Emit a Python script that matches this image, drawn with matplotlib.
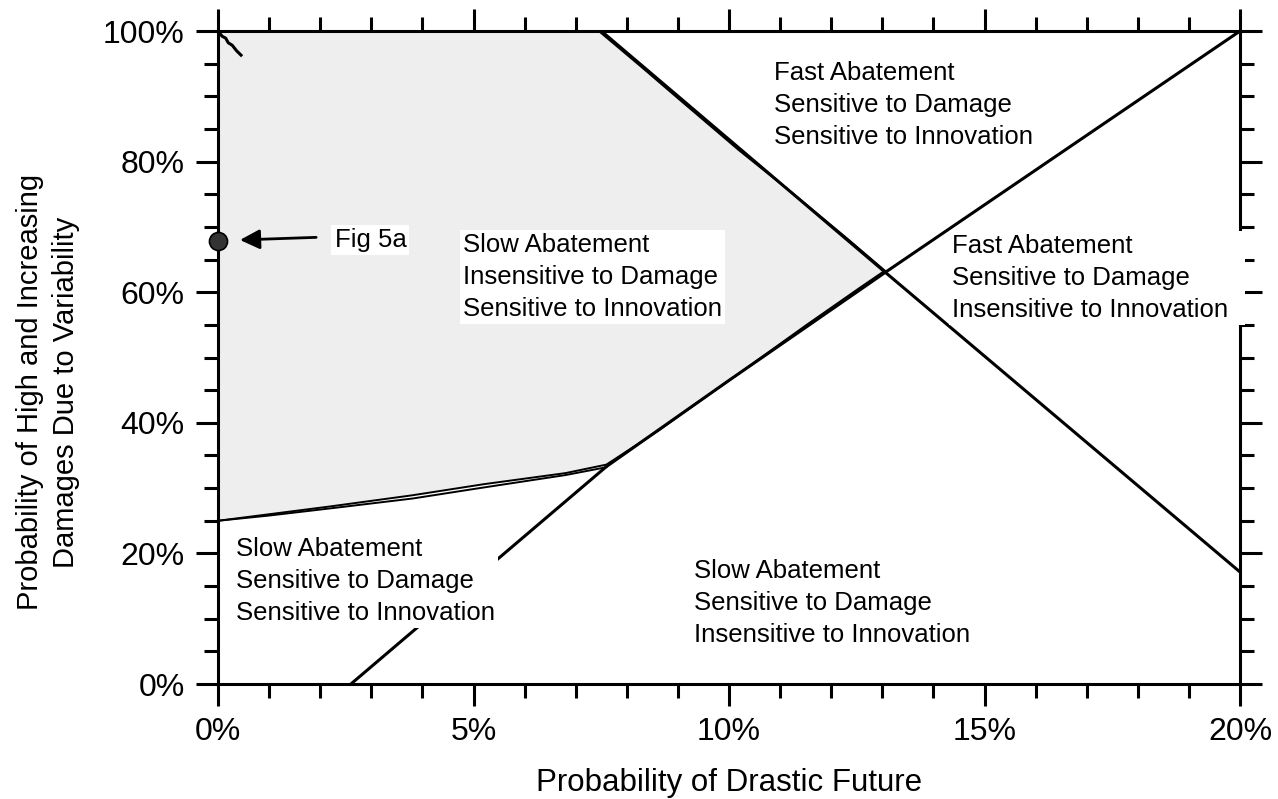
import matplotlib
matplotlib.use("Agg")
import matplotlib.pyplot as plt
from matplotlib.ticker import MultipleLocator

plt.rcParams['font.family'] = ['Liberation Sans', 'DejaVu Sans']

# boundary lines (x = prob. of drastic future in %, y = prob. of high damages in %)
rise_x = [2.6, 7.6, 10.0, 13.05, 20.0]
rise_y = [0.0, 33.3, 46.5, 63.0, 100.0]

fall_x = [7.5, 13.05, 20.0]
fall_y = [100.0, 63.1, 17.15]

# shaded region: slow abatement, insensitive to damage, sensitive to innovation
shade_x = [0.0, 7.45, 8.3, 9.0, 10.2, 11.3, 12.3, 13.05,
           12.6, 11.5, 10.2, 8.6, 7.6, 6.8, 5.2, 3.8, 2.2, 1.0, 0.0]
shade_y = [100.0, 100.0, 94.4, 89.7, 81.7, 74.8, 68.3, 63.3,
           60.9, 54.9, 47.6, 38.7, 33.6, 32.3, 30.6, 28.9, 27.2, 26.0, 25.0]

lower_x = [0.0, 1.0, 2.2, 3.8, 5.2, 6.8, 7.6]
lower_y = [25.0, 25.8, 26.9, 28.4, 30.1, 32.0, 33.2]

squig_x = [0.0, 0.08, 0.15, 0.2, 0.28, 0.36, 0.45]
squig_y = [100.0, 99.2, 98.9, 98.2, 97.8, 97.0, 96.3]

fig5a_x = [0.0]
fig5a_y = [67.9]

x_ticks = [0, 5, 10, 15, 20]
x_tick_labels = ['0%', '5%', '10%', '15%', '20%']
y_ticks = [0, 20, 40, 60, 80, 100]
y_tick_labels = ['0%', '20%', '40%', '60%', '80%', '100%']

fig = plt.figure(figsize=(12.78, 7.99), dpi=100)
ax = fig.add_axes([0.1706, 0.1439, 0.7997, 0.8173])

ax.fill(shade_x, shade_y, facecolor='#eeeeee', edgecolor='black', linewidth=1.4, zorder=1)
ax.plot(lower_x, lower_y, color='black', linewidth=1.4, zorder=2)
ax.plot(rise_x, rise_y, color='black', linewidth=2.2, zorder=2)
ax.plot(fall_x, fall_y, color='black', linewidth=2.2, zorder=2)
ax.plot(squig_x, squig_y, color='black', linewidth=2.2, zorder=2)

ax.plot(fig5a_x, fig5a_y, 'o', markersize=13, markerfacecolor='#333333',
        markeredgecolor='black', markeredgewidth=1.2, clip_on=False, zorder=6)

box = dict(boxstyle='square,pad=0.12', facecolor='white', edgecolor='none')
fs = 18.5
ls = 1.42

ax.annotate('', xy=(0.43, 68.0), xytext=(1.92, 68.4),
            arrowprops=dict(arrowstyle='-|>', color='black', lw=2,
                            mutation_scale=30, shrinkA=0, shrinkB=0), zorder=5)
ax.text(2.28, 68.0, 'Fig 5a', fontsize=fs, ha='left', va='center', bbox=box, zorder=5)

ax.text(10.88, 88.7, 'Fast Abatement\nSensitive to Damage\nSensitive to Innovation',
        fontsize=fs, ha='left', va='center', linespacing=ls, zorder=5)
ax.text(4.79, 62.3, 'Slow Abatement\nInsensitive to Damage\nSensitive to Innovation',
        fontsize=fs, ha='left', va='center', linespacing=ls, bbox=box, zorder=5)
ax.text(14.36, 62.2, 'Fast Abatement\nSensitive to Damage\nInsensitive to Innovation  ',
        fontsize=fs, ha='left', va='center', linespacing=ls, bbox=box, zorder=5,
        clip_on=False)
ax.text(0.35, 15.8, 'Slow Abatement\nSensitive to Damage\nSensitive to Innovation',
        fontsize=fs, ha='left', va='center', linespacing=ls, bbox=box, zorder=5)
ax.text(9.32, 12.4, 'Slow Abatement\nSensitive to Damage\nInsensitive to Innovation',
        fontsize=fs, ha='left', va='center', linespacing=ls, zorder=5)

ax.set_xlim(0, 20)
ax.set_ylim(0, 100)
ax.set_xticks(x_ticks)
ax.set_xticklabels(x_tick_labels)
ax.set_yticks(y_ticks)
ax.set_yticklabels(y_tick_labels)
ax.xaxis.set_minor_locator(MultipleLocator(1))
ax.yaxis.set_minor_locator(MultipleLocator(5))
ax.tick_params(which='both', direction='out', top=True, right=True,
               labeltop=False, labelright=False, width=2.2, labelsize=23)
ax.tick_params(which='major', length=16, pad=8)
ax.tick_params(which='minor', length=10)
for s in ax.spines.values():
    s.set_linewidth(2.2)

ax.set_xlabel('Probability of Drastic Future', fontsize=22.5, labelpad=15)
ax.set_ylabel('Probability of High and Increasing\nDamages Due to Variability',
              fontsize=21, linespacing=1.35)
ax.yaxis.set_label_coords(-0.135, 0.447)

fig.savefig('out.png', dpi=100)
